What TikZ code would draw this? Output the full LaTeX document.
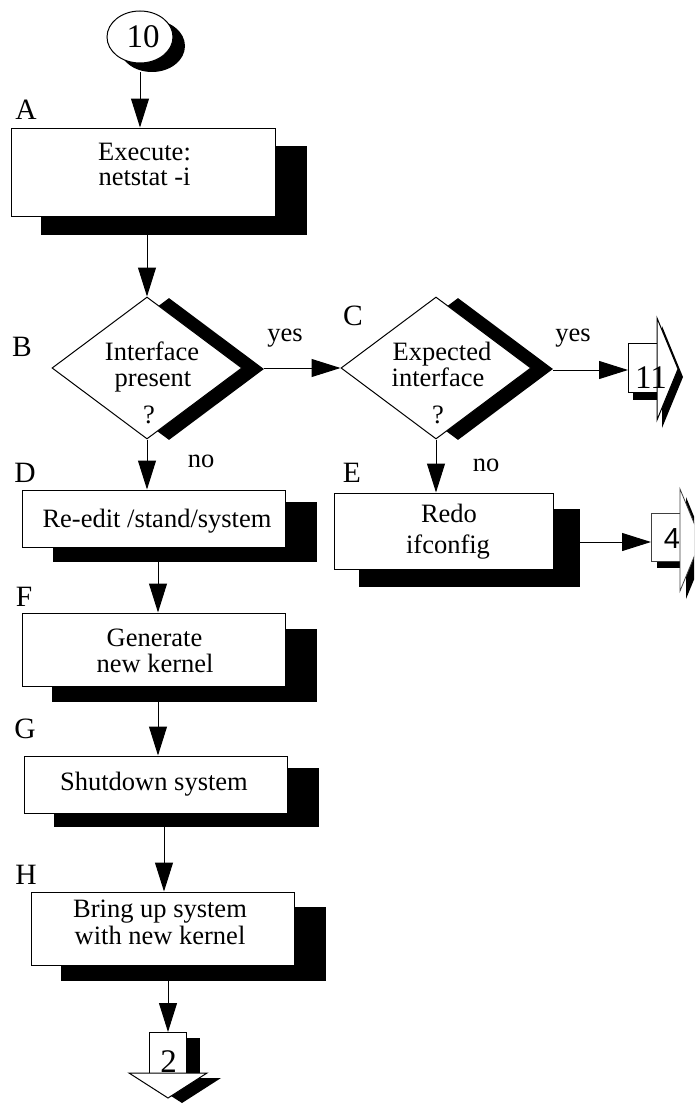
\documentclass[tikz,border=0pt]{standalone}
\usepackage{fontspec}
\setmainfont{Liberation Serif}
\newfontfamily\sansf{Liberation Sans}
\usetikzlibrary{shapes.geometric,arrows.meta,calc}
\begin{document}
\begin{tikzpicture}[x=1pt,y=-1pt,
  every node/.style={font=\fontsize{26.5}{26}\selectfont, inner sep=0pt},
  box/.style={draw, fill=white, line width=1pt, inner sep=0pt},
  shade/.style={fill=black, draw=none, inner sep=0pt},
  dia/.style={diamond, draw, fill=white, line width=1pt, inner sep=0pt, minimum width=190pt, minimum height=142pt},
  diashade/.style={diamond, fill=black, draw=none, inner sep=0pt, minimum width=190pt, minimum height=142pt},
  txt/.style={anchor=base},
  lbl/.style={anchor=center, font=\fontsize{29.5}{30}\selectfont},
  conn/.style={line width=1pt, -{Triangle[length=29pt,width=18pt]}},
  pg/.style={line width=1pt},
  big/.style={anchor=base, font=\fontsize{33}{33}\selectfont},
]
\useasboundingbox (0,0) rectangle (694,1108);
\clip (0,0) rectangle (694,1108);

% ---------- connector 10 ----------
\node[ellipse, fill=black, minimum width=66pt, minimum height=52pt] (C10s) at (152,46) {};
\node[ellipse, draw, fill=white, line width=1pt, minimum width=66pt, minimum height=52pt] (C10) at (140,37) {};
\node[big] (t10) at (143,48) {10};

% ---------- A ----------
\node[shade, minimum width=266pt, minimum height=89pt] (As) at (174,190) {};
\node[box, minimum width=264pt, minimum height=88pt] (A) at (143,172) {};
\node[txt] (A1) at (144.5,160) {Execute:};
\node[txt] (A2) at (144.5,185) {netstat -i};
\node[lbl] (LA) at (26,110) {A};

% ---------- B ----------
\node[diashade] (Bs) at (169,369) {};
\node[dia] (B) at (147,368) {};
\node[txt] (B1) at (152,360) {Interface};
\node[txt] (B2) at (153,386) {present};
\node[txt] (B3) at (149,423) {?};
\node[lbl] (LB) at (22,347) {B};
\node[txt] (yesB) at (285,341) {yes};
\node[txt] (noB) at (201,467) {no};

% ---------- C ----------
\node[diashade] (Cs) at (458,369) {};
\node[dia] (C) at (436,368) {};
\node[txt] (C1) at (442,360) {Expected};
\node[txt] (C2) at (438,386) {interface};
\node[txt] (C3) at (438,423) {?};
\node[lbl] (LC) at (353,316) {C};
\node[txt] (yesC) at (573,341) {yes};
\node[txt] (noE) at (486,471) {no};

% ---------- D ----------
\node[shade, minimum width=264pt, minimum height=60pt] (Ds) at (184.5,532) {};
\node[box, minimum width=263pt, minimum height=57pt] (D) at (153.5,518.5) {};
\node[txt] (D1) at (157,527) {Re-edit /stand/system};
\node[lbl] (LD) at (25,473) {D};

% ---------- E ----------
\node[shade, minimum width=221pt, minimum height=78pt] (Es) at (469.5,548) {};
\node[box, minimum width=219pt, minimum height=76pt] (E) at (443.5,531) {};
\node[txt] (E1) at (449,522) {Redo};
\node[txt] (E2) at (448,553) {ifconfig};
\node[lbl] (LE) at (352,473) {E};

% ---------- F ----------
\node[shade, minimum width=265pt, minimum height=73pt] (Fs) at (184.5,665.5) {};
\node[box, minimum width=263pt, minimum height=73pt] (F) at (153.5,649.5) {};
\node[txt] (F1) at (154.5,646) {Generate};
\node[txt] (F2) at (155,672) {new kernel};
\node[lbl] (LF) at (24,597) {F};

% ---------- G ----------
\node[shade, minimum width=265pt, minimum height=59pt] (Gs) at (186.5,797.5) {};
\node[box, minimum width=263pt, minimum height=57pt] (G) at (155.5,784.5) {};
\node[txt] (G1) at (154,790) {Shutdown system};
\node[lbl] (LG) at (25,729) {G};

% ---------- H ----------
\node[shade, minimum width=265pt, minimum height=74pt] (Hs) at (193.5,943.5) {};
\node[box, minimum width=263pt, minimum height=73pt] (H) at (162.5,928.5) {};
\node[txt] (H1) at (160,917) {Bring up system};
\node[txt] (H2) at (160,944) {with new kernel};
\node[lbl] (LH) at (26,875) {H};

% ---------- off-page 11 ----------
\fill (633,351) rectangle (662,400);
\fill (662,326) -- (683,377) -- (662,428) -- cycle;
\fill[white] (628,343) rectangle (657,392);
\fill[white] (657,318) -- (678,369) -- (657,420) -- cycle;
\draw[pg] (657,343) -- (628,343) -- (628,392) -- (657,392);
\draw[pg] (657,318) -- (678,369) -- (657,420) -- cycle;
\node[big] (t11) at (651,388) {11};
\coordinate (P11in) at (628,370);

% ---------- off-page 4 ----------
\fill (657,521) rectangle (686,568);
\fill (686,497) -- (707,548) -- (686,599) -- cycle;
\fill[white] (651,513) rectangle (680,561);
\fill[white] (680,489) -- (701,540) -- (680,591) -- cycle;
\draw[line width=0.8pt, black!75] (680,513) -- (651,513) -- (651,561) -- (680,561);
\draw[line width=0.8pt, black!75] (680,489) -- (701,540) -- (680,591) -- cycle;
\node[anchor=base, font=\sansf\fontsize{29}{29}\selectfont] (t4) at (672,548) {4};
\coordinate (P4in) at (651,542);

% ---------- off-page 2 ----------
\fill (163,1038) rectangle (200,1079);
\fill (143,1078) -- (221,1078) -- (182,1103) -- cycle;
\fill[white] (149,1032) rectangle (186,1073);
\fill[white] (129,1073) -- (207,1073) -- (168,1098) -- cycle;
\draw[pg] (149,1073) -- (149,1032) -- (186,1032) -- (186,1073);
\draw[pg] (129,1073) -- (207,1073) -- (168,1098) -- cycle;
\node[big] (t2) at (168.5,1072) {2};
\coordinate (P2in) at (168,1032);

% ---------- connectors ----------
\coordinate (Fin) at ([xshift=4.5pt]F.north);
\coordinate (Gin) at ([xshift=2.5pt]G.north);
\coordinate (Hin) at ([xshift=1.5pt]H.north);
\draw[conn] (C10.south |- C10s.south) -- (C10.south |- A.north);
\draw[conn] (As.south -| B.north) -- (B.north);
\draw[conn] (Bs.east |- C.west) -- (C.west);
\draw[conn] (Cs.east |- P11in) -- (P11in);
\draw[conn] (B.south) -- (B.south |- D.north);
\draw[conn] (C.south) -- (C.south |- E.north);
\draw[conn] (Es.east |- P4in) -- (P4in);
\draw[conn] (Ds.south -| Fin) -- (Fin);
\draw[conn] (Fs.south -| Gin) -- (Gin);
\draw[conn] (Gs.south -| Hin) -- (Hin);
\draw[conn] (Hs.south -| P2in) -- (P2in);
\end{tikzpicture}
\end{document}
